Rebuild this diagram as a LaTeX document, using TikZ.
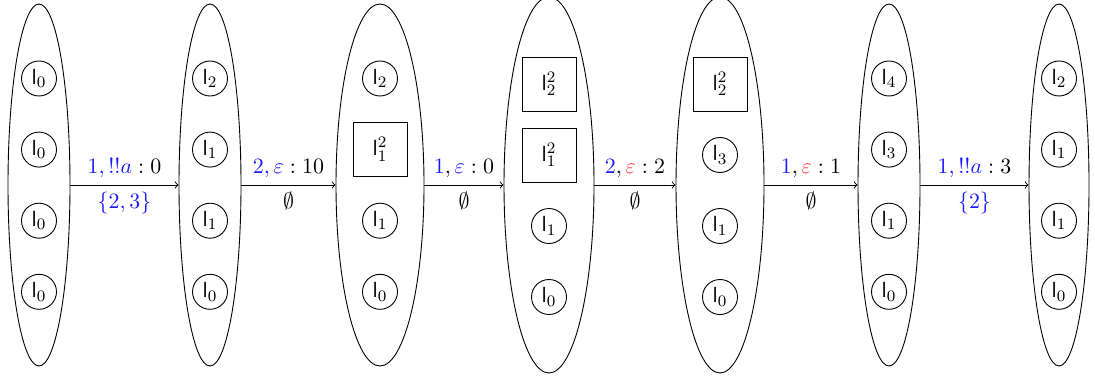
\documentclass[tikz,border=0pt]{standalone}
\usetikzlibrary{shapes.geometric}
\newcommand{\locn}[1]{$\mathsf{l}_{#1}$}
\newcommand{\locs}[1]{$\mathsf{l}_{#1}^{2}$}
\colorlet{lblue}{blue!90!white}
\colorlet{lred}{red!75!white}
\begin{document}
\begin{tikzpicture}[x=0.5pt,y=-0.5pt,line width=0.45pt,
  every node/.style={font=\fontsize{10.8}{13}\selectfont},
  grp/.style={draw,ellipse,inner sep=0pt},
  loc/.style={draw,circle,inner sep=0pt,minimum size=17.5pt},
  sq/.style={draw,rectangle,inner sep=0pt,minimum size=27pt},
  tr/.style={->}]
\useasboundingbox (0,0) rectangle (1095,379);
% groups
\node[grp,minimum width=31pt,minimum height=181pt] (e1) at (39,185) {};
\node[grp,minimum width=31pt,minimum height=181pt] (e2) at (210,185) {};
\node[grp,minimum width=44pt,minimum height=181pt] (e3) at (380,185) {};
\node[grp,minimum width=45pt,minimum height=188pt] (e4) at (549,185) {};
\node[grp,minimum width=44pt,minimum height=188pt] (e5) at (720,185) {};
\node[grp,minimum width=31pt,minimum height=181pt] (e6) at (889,185) {};
\node[grp,minimum width=30pt,minimum height=181pt] (e7) at (1059,185) {};
% E1
\node[loc] (a1) at (39,78.5) {\locn{0}};
\node[loc] (a2) at (39,149.6) {\locn{0}};
\node[loc] (a3) at (39,220.7) {\locn{0}};
\node[loc] (a4) at (39,291.8) {\locn{0}};
% E2
\node[loc] (b1) at (210,78.5) {\locn{2}};
\node[loc] (b2) at (210,149.6) {\locn{1}};
\node[loc] (b3) at (210,220.7) {\locn{1}};
\node[loc] (b4) at (210,291.8) {\locn{0}};
% E3
\node[loc] (c1) at (380,78.5) {\locn{2}};
\node[sq]  (c2) at (380,149.6) {\locs{1}};
\node[loc] (c3) at (380,220.7) {\locn{1}};
\node[loc] (c4) at (380,291.8) {\locn{0}};
% E4
\node[sq]  (d1) at (549,84) {\locs{2}};
\node[sq]  (d2) at (549,155) {\locs{1}};
\node[loc] (d3) at (549,226) {\locn{1}};
\node[loc] (d4) at (549,297) {\locn{0}};
% E5
\node[sq]  (f1) at (720,84) {\locs{2}};
\node[loc] (f2) at (720,155) {\locn{3}};
\node[loc] (f3) at (720,226) {\locn{1}};
\node[loc] (f4) at (720,297) {\locn{0}};
% E6
\node[loc] (g1) at (889,78.5) {\locn{4}};
\node[loc] (g2) at (889,149.6) {\locn{3}};
\node[loc] (g3) at (889,220.7) {\locn{1}};
\node[loc] (g4) at (889,291.8) {\locn{0}};
% E7
\node[loc] (h1) at (1059,78.5) {\locn{2}};
\node[loc] (h2) at (1059,149.6) {\locn{1}};
\node[loc] (h3) at (1059,220.7) {\locn{1}};
\node[loc] (h4) at (1059,291.8) {\locn{0}};
% transitions
\draw[tr] (e1.east) -- node[above] {$\textcolor{lblue}{1,!!a}:0$} node[below] {$\textcolor{lblue}{\{2,3\}}$} (e2.west);
\draw[tr] (e2.east) -- node[above] {$\textcolor{lblue}{2,\varepsilon}:10$} node[below] {$\emptyset$} (e3.west);
\draw[tr] (e3.east) -- node[above] {$\textcolor{lblue}{1},\textcolor{lblue}{\varepsilon}:0$} node[below] {$\emptyset$} (e4.west);
\draw[tr] (e4.east) -- node[above] {$\textcolor{lblue}{2},\textcolor{lred}{\varepsilon}:2$} node[below] {$\emptyset$} (e5.west);
\draw[tr] (e5.east) -- node[above] {$\textcolor{lblue}{1},\textcolor{lred}{\varepsilon}:1$} node[below] {$\emptyset$} (e6.west);
\draw[tr] (e6.east) -- node[above] {$\textcolor{lblue}{1,!!a}:3$} node[below] {$\textcolor{lblue}{\{2\}}$} (e7.west);
\end{tikzpicture}
\end{document}
